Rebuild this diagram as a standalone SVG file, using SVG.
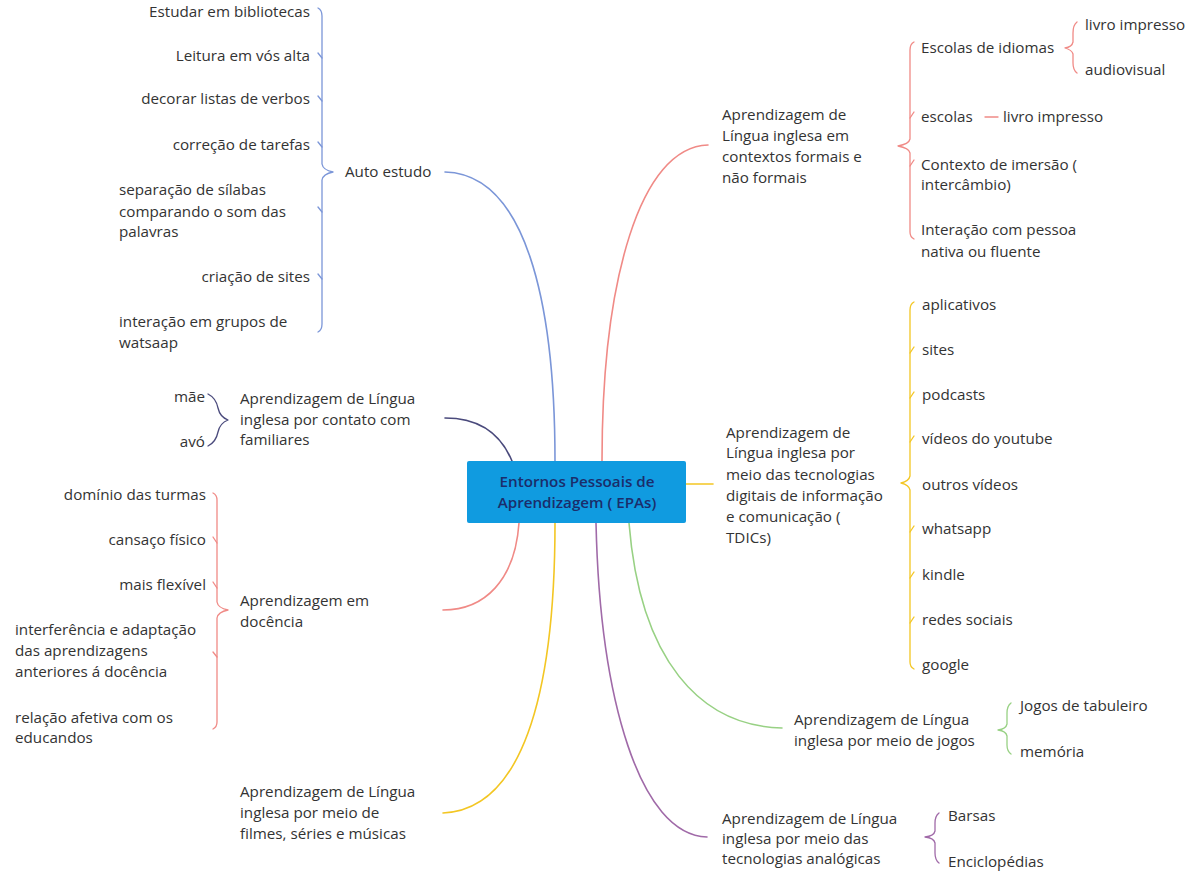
<svg xmlns="http://www.w3.org/2000/svg" width="1192" height="877" viewBox="0 0 1192 877">
<style>
text{font-family:"Open Sans","Noto Sans","Liberation Sans",sans-serif;font-size:15.2px;fill:#333}
.r{text-anchor:end}
.c{text-anchor:middle;fill:#1b2d6b;font-size:15.2px;font-weight:600}
.ln{fill:none;stroke-width:1.6;stroke-linecap:round}
.br{fill:none;stroke-width:1.3;stroke-linecap:round;stroke-linejoin:round}
.blue{stroke:#7b96d8}.red{stroke:#f08a86}.navy{stroke:#4a4a7c}.yel{stroke:#f3c623}.pur{stroke:#a06aa8}.grn{stroke:#98d184}
</style>
<rect width="1192" height="877" fill="#fff"/>
<g id="connectors">
<path class="ln blue" d="M555,461 C555,300 525,174 445,172"/>
<path class="ln red" d="M602,461 C602,280 640,147 708,145"/>
<path class="ln navy" d="M512,461 C500,432 478,418 445,418"/>
<path class="ln yel" d="M686,484 L713,484"/>
<path class="ln red" d="M519,523 C515,580 485,610 443,610"/>
<path class="ln yel" d="M555,523 C555,700 520,810 443,813"/>
<path class="ln pur" d="M596,523 C600,700 640,835 707,837"/>
<path class="ln grn" d="M629,523 C640,660 700,726 782,728"/>
</g>
<g id="center">
<rect x="467" y="461" width="219" height="62" rx="2" fill="#109be0"/>
<text class="c" x="577" y="487">Entornos Pessoais de</text>
<text class="c" x="577" y="508">Aprendizagem ( EPAs)</text>
</g>
<g id="auto-estudo">
<text x="345" y="177">Auto estudo</text>
<path class="br blue" d="M318,8 Q322,10 322,16 L322,164 Q323,170 333,172 Q323,174 322,180 L322,324 Q322,330 318,332"/>
<path class="br blue" d="M318,53 L322,58 M318,96 L322,101 M318,142 L322,147 M318,207 L322,212 M318,274 L322,279"/>
<text class="r" x="310" y="17">Estudar em bibliotecas</text>
<text class="r" x="310" y="61">Leitura em vós alta</text>
<text class="r" x="310" y="104">decorar listas de verbos</text>
<text class="r" x="310" y="150">correção de tarefas</text>
<text x="119" y="195">separação de sílabas</text>
<text x="119" y="217">comparando o som das</text>
<text x="119" y="237">palavras</text>
<text class="r" x="310" y="282">criação de sites</text>
<text x="119" y="327">interação em grupos de</text>
<text x="119" y="348">watsaap</text>
</g>
<g id="familiares">
<text x="240" y="404">Aprendizagem de Língua</text>
<text x="240" y="425">inglesa por contato com</text>
<text x="240" y="445">familiares</text>
<path class="br navy" d="M208,394 Q216,398 218,408 Q220,417 228,420 Q220,423 218,432 Q216,442 208,446"/>
<text class="r" x="205" y="402">mãe</text>
<text class="r" x="205" y="447">avó</text>
</g>
<g id="docencia">
<text x="240" y="606">Aprendizagem em</text>
<text x="240" y="627">docência</text>
<path class="br red" d="M213,493 Q217,495 217,500 L217,602 Q218,608 228,610 Q218,612 217,618 L217,722 Q217,727 213,729"/>
<path class="br red" d="M213,537 L217,543 M213,582 L217,588 M213,652 L217,657"/>
<text class="r" x="206" y="500">domínio das turmas</text>
<text class="r" x="206" y="545">cansaço físico</text>
<text class="r" x="206" y="590">mais flexível</text>
<text x="15" y="635">interferência e adaptação</text>
<text x="15" y="656">das aprendizagens</text>
<text x="15" y="677">anteriores á docência</text>
<text x="15" y="723">relação afetiva com os</text>
<text x="15" y="743">educandos</text>
</g>
<g id="filmes">
<text x="240" y="797">Aprendizagem de Língua</text>
<text x="240" y="818">inglesa por meio de</text>
<text x="240" y="839">filmes, séries e músicas</text>
</g>
<g id="formais">
<text x="722" y="120">Aprendizagem de</text>
<text x="722" y="141">Língua inglesa em</text>
<text x="722" y="162">contextos formais e</text>
<text x="722" y="183">não formais</text>
<path class="br red" d="M914,42 Q910,44 910,50 L910,139 Q909,144 898,146 Q909,148 910,153 L910,232 Q910,237 914,239"/>
<path class="br red" d="M914,112 L910,118 M914,160 L910,166"/>
<text x="921" y="53">Escolas de idiomas</text>
<path class="br red" d="M1077,22 Q1073,25 1073,33 L1073,42 Q1072,47 1065,48 Q1072,50 1073,54 L1073,63 Q1073,70 1077,73"/>
<text x="1085" y="30">livro impresso</text>
<text x="1085" y="75">audiovisual</text>
<text x="921" y="122">escolas</text>
<path class="ln red" d="M985,117 L998,117" style="stroke-width:1.3"/>
<text x="1003" y="122">livro impresso</text>
<text x="921" y="170">Contexto de imersão (</text>
<text x="921" y="190">intercâmbio)</text>
<text x="921" y="235">Interação com pessoa</text>
<text x="921" y="257">nativa ou fluente</text>
</g>
<g id="tdics">
<text x="726" y="438">Aprendizagem de</text>
<text x="726" y="458">Língua inglesa por</text>
<text x="726" y="480">meio das tecnologias</text>
<text x="726" y="501">digitais de informação</text>
<text x="726" y="522">e comunicação (</text>
<text x="726" y="543">TDICs)</text>
<path class="br yel" d="M914,302 Q910,304 910,310 L910,476 Q909,481 901,483 Q909,485 910,490 L910,662 Q910,667 914,669"/>
<path class="br yel" d="M914,347 L910,353 M914,392 L910,398 M914,436 L910,442 M914,526 L910,532 M914,572 L910,578 M914,617 L910,623"/>
<text x="922" y="310">aplicativos</text>
<text x="922" y="355">sites</text>
<text x="922" y="400">podcasts</text>
<text x="922" y="444">vídeos do youtube</text>
<text x="922" y="490">outros vídeos</text>
<text x="922" y="534">whatsapp</text>
<text x="922" y="580">kindle</text>
<text x="922" y="625">redes sociais</text>
<text x="922" y="670">google</text>
</g>
<g id="jogos">
<text x="794" y="725">Aprendizagem de Língua</text>
<text x="794" y="746">inglesa por meio de jogos</text>
<path class="br grn" d="M1011,703 Q1007,706 1007,713 L1007,724 Q1006,729 998,730 Q1006,731 1007,736 L1007,745 Q1007,751 1011,754"/>
<text x="1020" y="711">Jogos de tabuleiro</text>
<text x="1020" y="757">memória</text>
</g>
<g id="analogicas">
<text x="722" y="824">Aprendizagem de Língua</text>
<text x="722" y="844">inglesa por meio das</text>
<text x="722" y="864">tecnologias analógicas</text>
<path class="br pur" d="M939,813 Q935,816 935,823 L935,831 Q934,836 925,837 Q934,838 935,843 L935,853 Q935,860 939,863"/>
<text x="948" y="821">Barsas</text>
<text x="948" y="867">Enciclopédias</text>
</g>
</svg>
